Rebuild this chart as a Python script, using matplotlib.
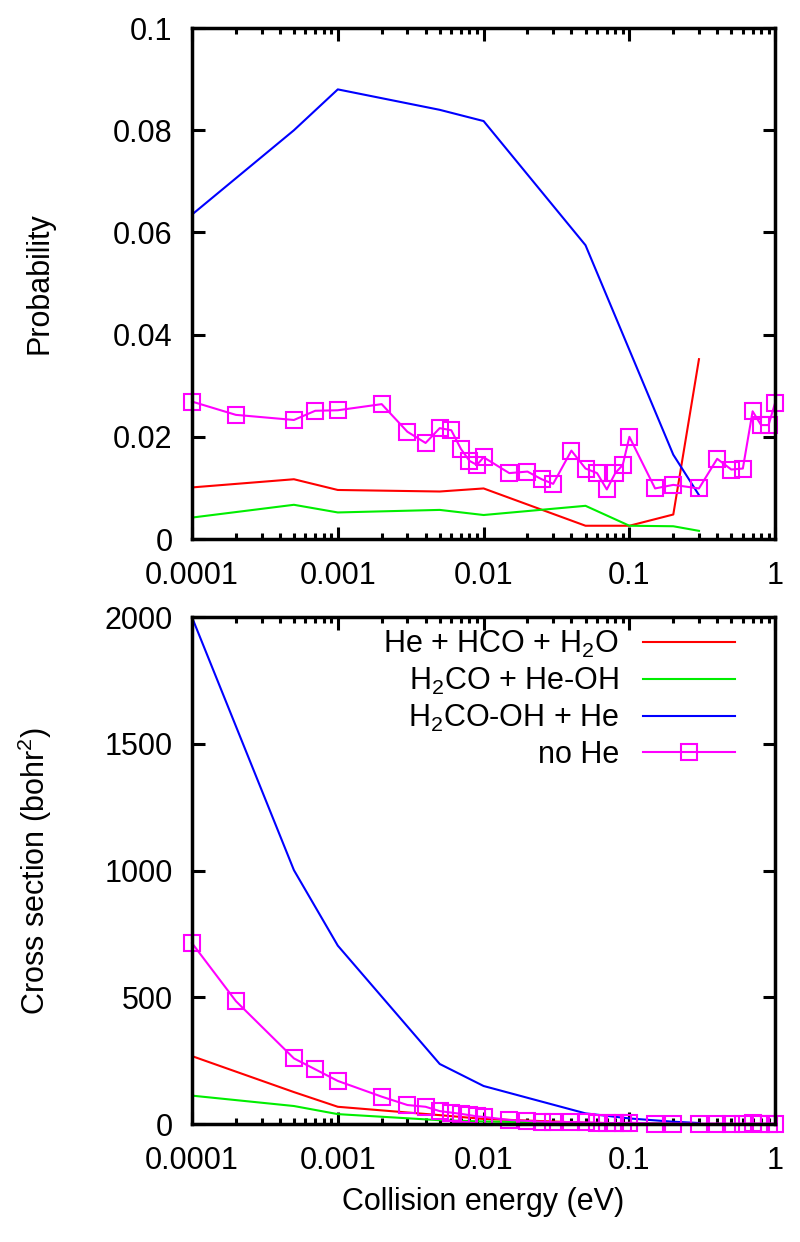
import numpy as np
import matplotlib
matplotlib.use("Agg")
import matplotlib.pyplot as plt
from matplotlib.ticker import LogLocator, FixedLocator, NullFormatter

plt.rcParams['font.family'] = ['Liberation Sans', 'DejaVu Sans']
plt.rcParams['mathtext.fontset'] = 'custom'
plt.rcParams['mathtext.rm'] = 'Liberation Sans'
plt.rcParams['mathtext.it'] = 'Liberation Sans'

# energies (eV) for the three channels
e_chan = [1e-4, 5e-4, 1e-3, 5e-3, 1e-2, 5e-2, 0.1, 0.2, 0.3]

# probabilities
p_hco = [0.0101, 0.0117, 0.0096, 0.0093, 0.0099, 0.0026, 0.0026, 0.0048, 0.0352]
p_heoh = [0.0042, 0.0067, 0.0052, 0.0057, 0.0047, 0.0065, 0.0026, 0.0025, 0.0016]
p_h2cooh = [0.0635, 0.0800, 0.0880, 0.0840, 0.0818, 0.0575, 0.0370, 0.0165, 0.0086]

# cross sections (bohr^2)
s_hco = [268, 126, 68, 35, 20, 5, 3, 2, 2]
s_heoh = [112, 71, 39, 15, 10, 4, 2, 1, 1]
s_h2cooh = [2000, 1002, 704, 237, 150, 42, 22, 9, 4]

# "no He" data
e_nohe = [1e-4, 2e-4, 5e-4, 7e-4, 1e-3, 2e-3, 3e-3, 4e-3, 5e-3, 6e-3, 7e-3, 8e-3,
          9e-3, 0.01, 0.015, 0.02, 0.025, 0.03, 0.04, 0.05, 0.06, 0.07, 0.08, 0.09,
          0.1, 0.15, 0.2, 0.3, 0.4, 0.5, 0.6, 0.7, 0.8, 0.9, 1.0]
p_nohe = [0.0269, 0.0243, 0.0233, 0.0251, 0.0252, 0.0264, 0.0210, 0.0188, 0.0217,
          0.0213, 0.0176, 0.0153, 0.0145, 0.0160, 0.0129, 0.0132, 0.0117, 0.0108,
          0.0173, 0.0138, 0.0129, 0.0097, 0.0129, 0.0145, 0.0200, 0.0099, 0.0106,
          0.0099, 0.0157, 0.0136, 0.0138, 0.0250, 0.0223, 0.0223, 0.0267]
s_nohe = [714, 485, 259, 216, 170, 108, 75, 68, 51, 45, 40, 35, 30, 28, 16, 12,
          9, 7, 8, 6, 5, 3, 4, 4, 5, 2, 2, 1.5, 2, 1.5, 1.5, 2.5, 2, 2, 2]

labels = ['He + HCO + H$_2$O', 'H$_2$CO + He-OH', 'H$_2$CO-OH + He', 'no He']
colors = ['#ff0000', '#00ee00', '#0000ff', '#ff00ff']

fs = 22
fig = plt.figure(figsize=(8, 12.42), dpi=100)
ax1 = fig.add_axes([0.24, 0.566, 0.729, 0.4114])
ax2 = fig.add_axes([0.24, 0.095, 0.729, 0.408])

lw = 1.5
for ax, series, nohe in [(ax1, [p_hco, p_heoh, p_h2cooh], p_nohe),
                         (ax2, [s_hco, s_heoh, s_h2cooh], s_nohe)]:
    for y, c, lab in zip(series, colors[:3], labels[:3]):
        ax.plot(e_chan, y, color=c, lw=lw, label=lab)
    ax.plot(e_nohe, nohe, color=colors[3], lw=lw, marker='s', ms=11,
            mfc='none', mec=colors[3], mew=1.5, label=labels[3], clip_on=False)
    ax.set_xscale('log')
    ax.set_xlim(1e-4, 1)
    ax.xaxis.set_major_locator(FixedLocator([1e-4, 1e-3, 1e-2, 1e-1, 1]))
    ax.set_xticklabels(['0.0001', '0.001', '0.01', '0.1', '1'])
    ax.xaxis.set_minor_locator(LogLocator(base=10, subs=np.arange(2, 10), numticks=20))
    ax.xaxis.set_minor_formatter(NullFormatter())
    ax.tick_params(which='both', direction='in', top=True, right=True,
                   labelsize=fs, width=2.2)
    ax.tick_params(which='major', length=9)
    ax.tick_params(which='minor', length=4.5)
    ax.tick_params(axis='y', pad=14)
    ax.tick_params(axis='x', pad=16)
    for s in ax.spines.values():
        s.set_linewidth(2.5)
    ax.yaxis.set_label_coords(-0.236, 0.5)

ax1.set_ylim(0, 0.1)
ax1.set_yticks([0, 0.02, 0.04, 0.06, 0.08, 0.1])
ax1.set_yticklabels(['0', '0.02', '0.04', '0.06', '0.08', '0.1'])
ax1.set_ylabel('Probability', fontsize=fs)

ax2.set_ylim(0, 2000)
ax2.set_yticks([0, 500, 1000, 1500, 2000])
ax2.set_ylabel('Cross section (bohr$^2$)', fontsize=fs)
ax2.set_xlabel('Collision energy (eV)', fontsize=fs)
ax2.xaxis.set_label_coords(0.5, -0.125)

ax2.legend(loc='upper right', bbox_to_anchor=(0.931, 0.978), frameon=False,
           markerfirst=False, fontsize=fs, handlelength=3.0, handletextpad=0.8,
           labelspacing=0.2, borderpad=0, borderaxespad=0)

fig.savefig('out.png', dpi=100)
